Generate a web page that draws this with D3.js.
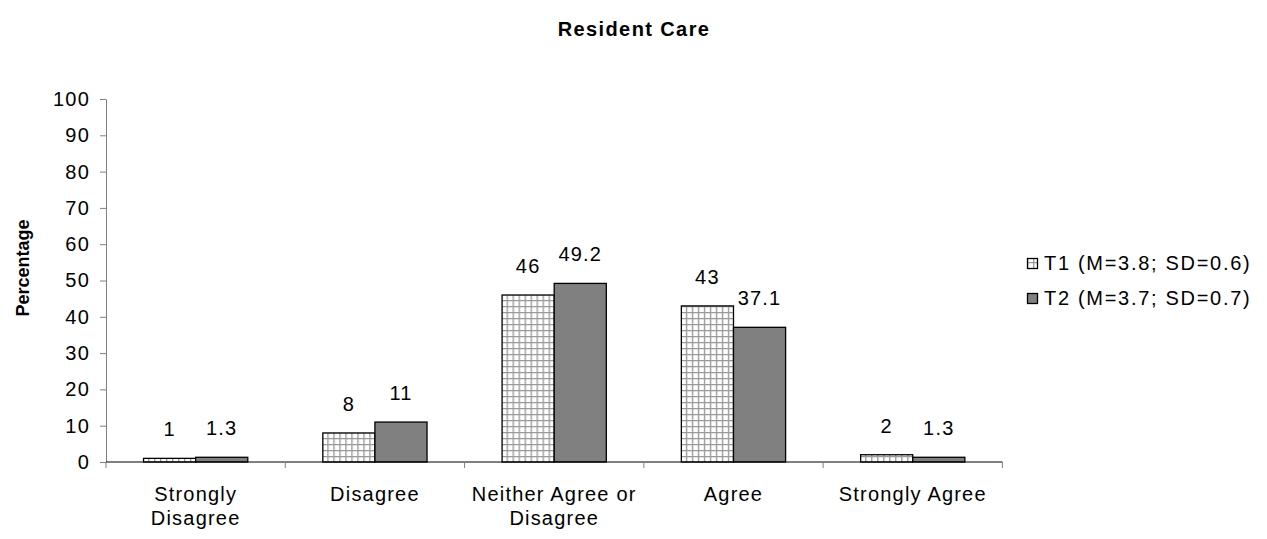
<!DOCTYPE html>
<html>
<head>
<meta charset="utf-8">
<script src="https://cdn.jsdelivr.net/npm/d3@7"></script>
<style>
  body { margin: 0; background: #fff; }
  svg { display: block; font-family: "Liberation Sans", Arial, sans-serif; }
  text { letter-spacing: 1.2px; }
</style>
</head>
<body>
<svg id="chart" width="1267" height="539"></svg>
<script>
// Response categories (multi-line labels)
const categories = [
  ["Strongly", "Disagree"],
  ["Disagree"],
  ["Neither Agree or", "Disagree"],
  ["Agree"],
  ["Strongly Agree"]
];
const seriesNames = ["T1 (M=3.8; SD=0.6)", "T2 (M=3.7; SD=0.7)"];
const t1Values = [1, 8, 46, 43, 2];
const t2Values = [1.3, 11, 49.2, 37.1, 1.3];
const yTicks = [0, 10, 20, 30, 40, 50, 60, 70, 80, 90, 100];

const svg = d3.select("#chart");
const margin = { left: 106, right: 264, top: 99, bottom: 77 };
const W = 1267, H = 539;
const FS = 20;

// Hatched grid fill for T1
const defs = svg.append("defs");
const pat = defs.append("pattern")
  .attr("id", "grid")
  .attr("patternUnits", "userSpaceOnUse")
  .attr("width", 6).attr("height", 6);
pat.append("rect").attr("width", 6).attr("height", 6).attr("fill", "#fff");
pat.append("path").attr("d", "M0,0.5H6M0.5,0V6")
  .attr("stroke", "#9a9a9a").attr("stroke-width", 1.7).attr("fill", "none");

const fills = ["url(#grid)", "#808080"];

const x0 = d3.scaleBand()
  .domain(d3.range(categories.length))
  .range([margin.left, W - margin.right - 0.6])
  .paddingInner(0).paddingOuter(0);
const x1 = d3.scaleBand()
  .domain([0, 1])
  .range([0, x0.bandwidth()])
  .paddingInner(0).paddingOuter(0.72);
const y = d3.scaleLinear().domain([0, 100]).range([H - margin.bottom, margin.top]);

// Title
svg.append("text")
  .attr("x", 634).attr("y", 36)
  .attr("text-anchor", "middle")
  .attr("font-weight", "bold").attr("font-size", FS)
  .style("letter-spacing", "1.4px")
  .text("Resident Care");

// Y axis title
svg.append("text")
  .attr("transform", "translate(29,268) rotate(-90)")
  .attr("text-anchor", "middle")
  .attr("font-weight", "bold").attr("font-size", 18)
  .style("letter-spacing", "0px")
  .text("Percentage");

// Y axis
const yAxis = svg.append("g")
  .attr("transform", `translate(${margin.left},0)`)
  .call(d3.axisLeft(y).tickValues(yTicks).tickSize(6).tickSizeOuter(0).tickPadding(10));
yAxis.select(".domain").attr("stroke", "#808080");
yAxis.selectAll(".tick line").attr("stroke", "#808080");
yAxis.selectAll(".tick text").attr("font-size", FS).attr("fill", "#000")
  .attr("font-family", "Liberation Sans, Arial, sans-serif");

// Bars
const data = categories.map((c, i) => ({ i, vals: [t1Values[i], t2Values[i]] }));
const groups = svg.append("g").selectAll("g").data(data).join("g")
  .attr("transform", d => `translate(${x0(d.i)},0)`);

groups.selectAll("rect").data(d => d.vals.map((v, s) => ({ v, s })))
  .join("rect")
  .attr("x", d => x1(d.s))
  .attr("y", d => y(d.v))
  .attr("width", x1.bandwidth())
  .attr("height", d => y(0) - y(d.v))
  .attr("fill", d => fills[d.s])
  .attr("stroke", "#000").attr("stroke-width", 1.3);

groups.selectAll("text.val").data(d => d.vals.map((v, s) => ({ v, s })))
  .join("text").attr("class", "val")
  .attr("x", d => x1(d.s) + x1.bandwidth() / 2)
  .attr("y", d => y(d.v) - 22)
  .attr("text-anchor", "middle")
  .attr("font-size", FS)
  .text(d => d.v);

// X axis
const xAxis = svg.append("g")
  .attr("transform", `translate(0,${y(0)})`);
xAxis.append("line")
  .attr("x1", margin.left).attr("x2", x0.range()[1])
  .attr("stroke", "#000").attr("stroke-width", 1);
const boundaries = d3.range(categories.length + 1).map(i =>
  i < categories.length ? x0(i) : x0(i - 1) + x0.bandwidth());
xAxis.selectAll("line.tick").data(boundaries).join("line").attr("class", "tick")
  .attr("x1", d => d).attr("x2", d => d)
  .attr("y1", 0).attr("y2", 6)
  .attr("stroke", "#808080");

const labels = svg.append("g").selectAll("text").data(categories).join("text")
  .attr("text-anchor", "middle")
  .attr("font-size", FS)
  .attr("transform", (d, i) => `translate(${x0(i) + x0.bandwidth() / 2},${y(0) + 39})`);
labels.selectAll("tspan").data(d => d).join("tspan")
  .attr("x", 0).attr("dy", (d, j) => j === 0 ? 0 : 24)
  .text(d => d);

// Legend
const legend = svg.append("g").attr("transform", "translate(1027,256)");
const items = legend.selectAll("g").data(seriesNames).join("g")
  .attr("transform", (d, i) => `translate(0,${i * 35})`);
items.append("rect")
  .attr("x", 0.5).attr("y", 2.5).attr("width", 10).attr("height", 10)
  .attr("fill", (d, i) => fills[i])
  .attr("stroke", "#000").attr("stroke-width", 1.3);
items.append("text")
  .attr("x", 17).attr("y", 14)
  .attr("font-size", FS)
  .style("letter-spacing", "1.7px")
  .text(d => d);
</script>
</body>
</html>
